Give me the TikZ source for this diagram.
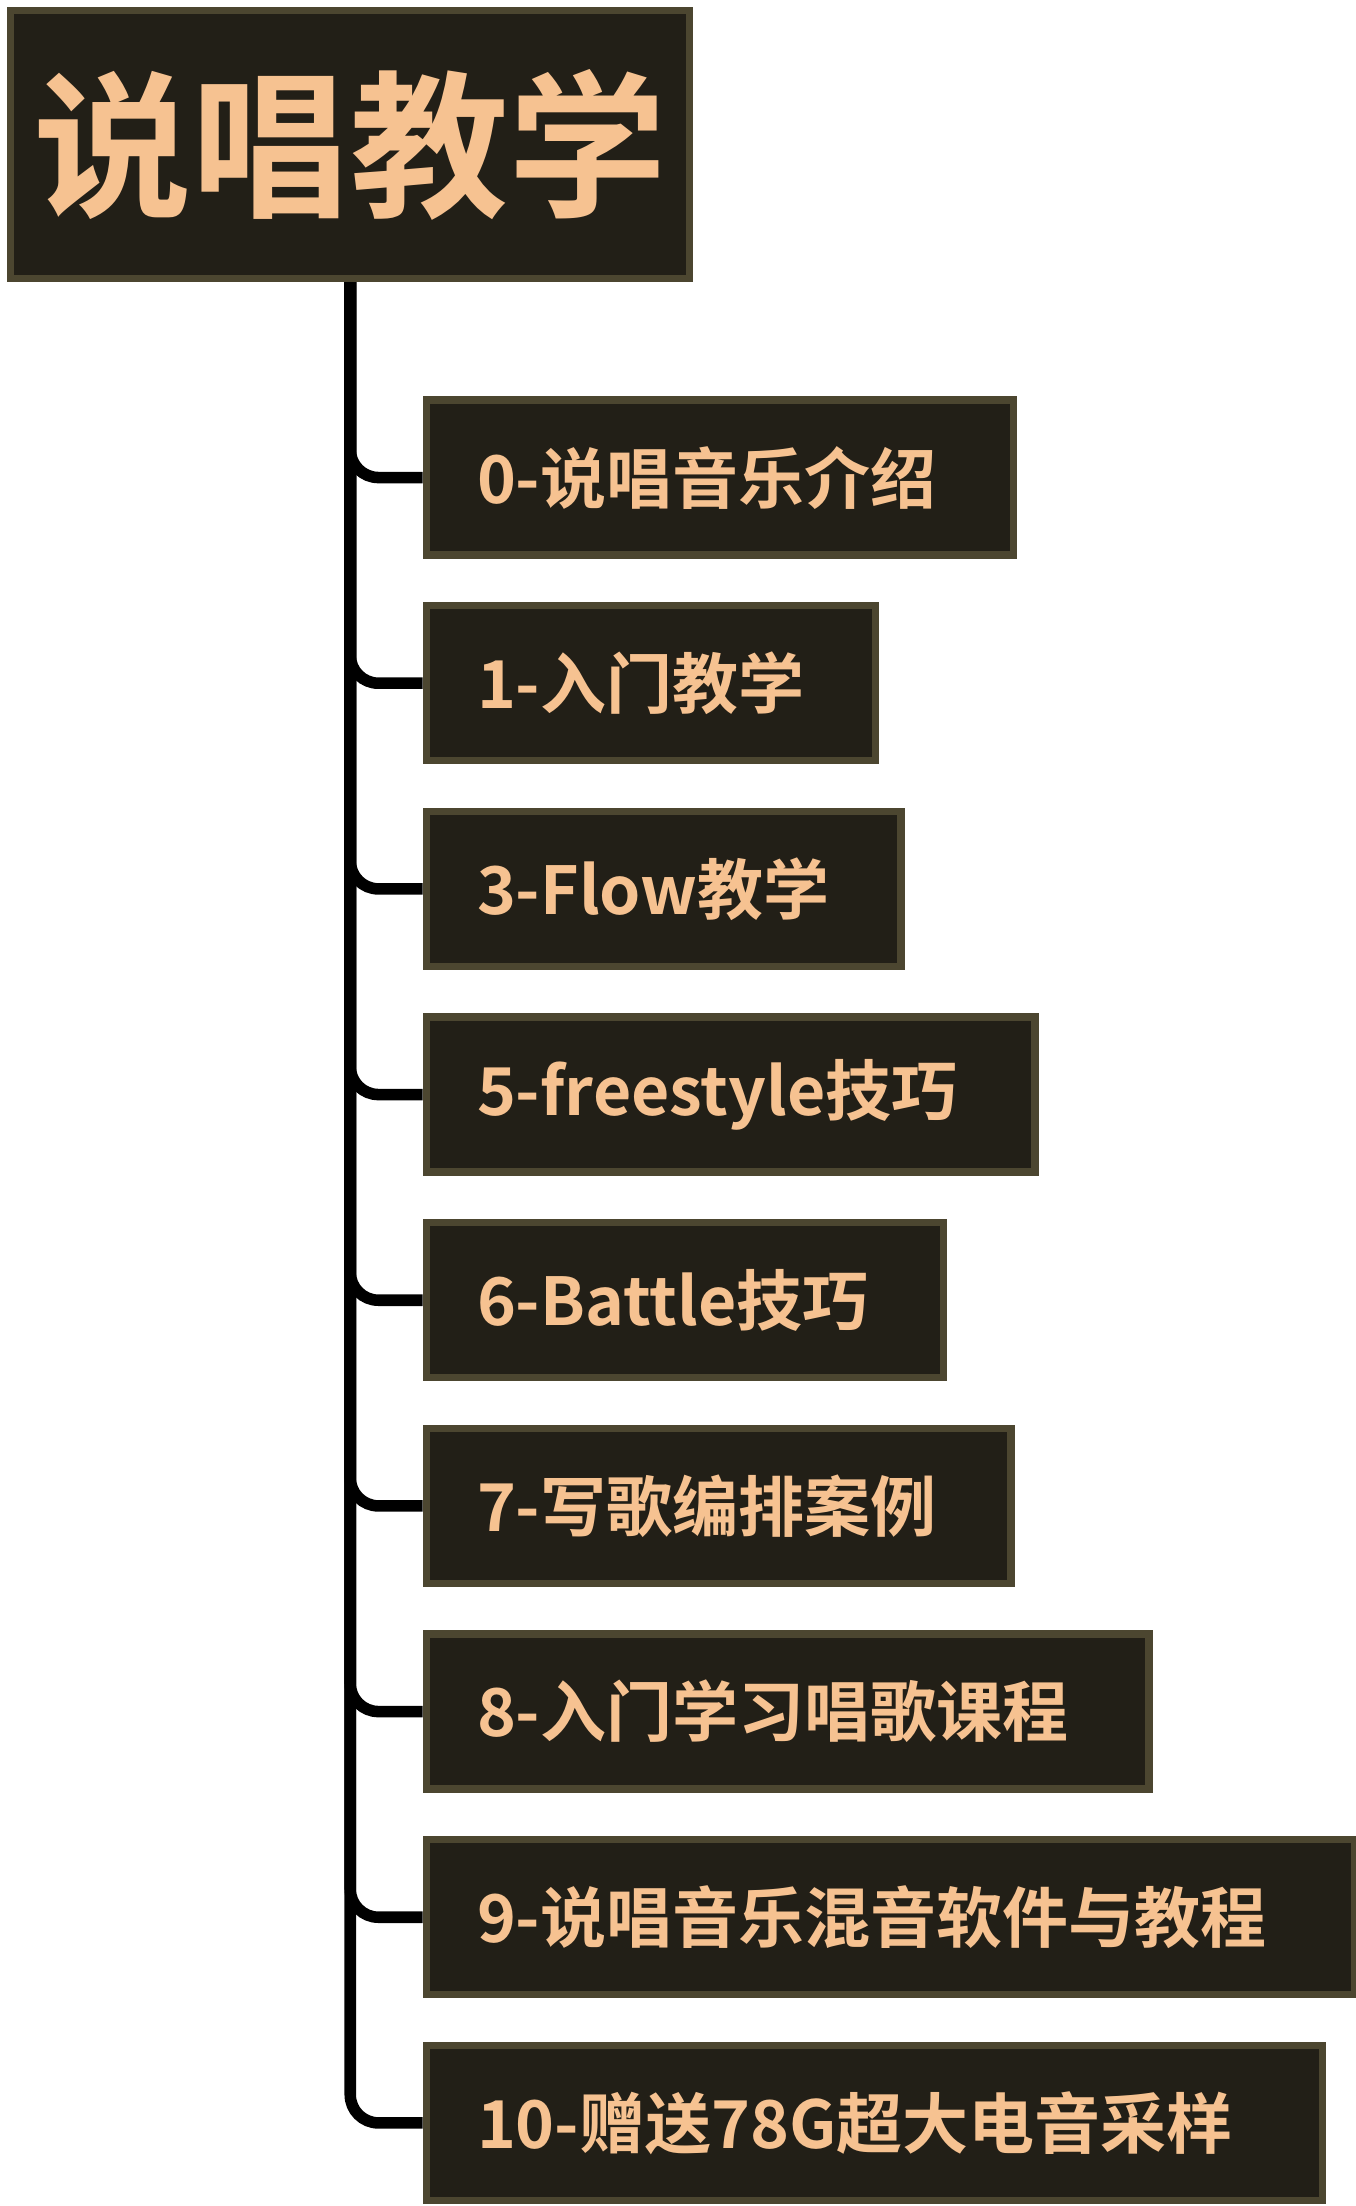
\documentclass[tikz,border=0pt]{standalone}
\usepackage{fontspec}
\newfontfamily\cjk{Noto Sans CJK SC Bold}
\usetikzlibrary{positioning}
\definecolor{boxfill}{HTML}{221F17}
\definecolor{boxline}{HTML}{4C4630}
\definecolor{peach}{HTML}{F6C291}
\tikzset{
  topbox/.style={draw=boxline,fill=boxfill,line width=4.5pt,text=peach,
    font=\cjk\fontsize{96}{100}\selectfont,anchor=north west,
    minimum width=482*0.03cm,minimum height=190*0.03cm},
  itembox/.style={draw=boxline,fill=boxfill,line width=4.5pt,text=peach,
    font=\cjk\fontsize{40}{44}\selectfont,anchor=west,align=left,
    minimum height=110*0.03cm,inner xsep=36*0.03cm},
  trunk/.style={line width=7pt,rounded corners=20*0.03cm}
}
\begin{document}
\begin{tikzpicture}[x=0.03cm,y=-0.03cm]
  \useasboundingbox (0,0) rectangle (962,1566);
  \node[topbox] (root) at (5,5) {说唱教学};
  % branches first, boxes on top
  \foreach \yy [count=\i from 0] in {339,485,631,777,923,1069,1215,1361,1507}
    \coordinate (p\i) at (300,\yy);
  \foreach \i in {0,...,8}
    \draw[trunk] (root.south) |- (p\i);
  \foreach \yy/\w/\t [count=\i from 0] in {
      339/417/0-说唱音乐介绍, 485/319/1-入门教学, 631/337/3-Flow教学,
      777/432/5-freestyle技巧, 923/367/6-Battle技巧, 1069/415/7-写歌编排案例,
      1215/513/8-入门学习唱歌课程, 1361/659/9-说唱音乐混音软件与教程,
      1507/636/10-赠送78G超大电音采样}
    \node[itembox,text width=(\w-72)*0.03cm] (c\i) at (p\i) {\t};
\end{tikzpicture}
\end{document}
